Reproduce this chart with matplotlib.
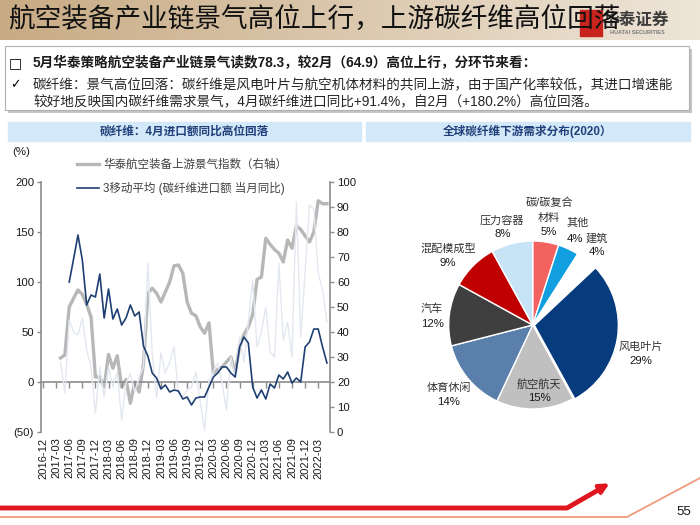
import numpy as np
import pandas as pd
import matplotlib
matplotlib.use("Agg")
import matplotlib.pyplot as plt
from matplotlib.patches import Rectangle

plt.rcParams["font.family"] = ["Liberation Sans", "Noto Sans CJK SC", "DejaVu Sans"]
plt.rcParams["axes.unicode_minus"] = False

W, H = 700, 525

# ---- texts
title = "航空装备产业链景气高位上行，上游碳纤维高位回落"
bullet1 = "5月华泰策略航空装备产业链景气读数78.3，较2月（64.9）高位上行，分环节来看："
bullet2 = ["碳纤维：景气高位回落：碳纤维是风电叶片与航空机体材料的共同上游，由于国产化率较低，其进口增速能",
           "较好地反映国内碳纤维需求景气，4月碳纤维进口同比+91.4%，自2月（+180.2%）高位回落。"]
left_title = "碳纤维：4月进口额同比高位回落"
right_title = "全球碳纤维下游需求分布(2020）"
leg_grey = "华泰航空装备上游景气指数（右轴）"
leg_blue = "3移动平均 (碳纤维进口额 当月同比)"

# ---- line chart data (monthly, 2016-12 .. 2022-05)
months = pd.period_range("2016-12", periods=66, freq="M").strftime("%Y-%m").tolist()
N = None
index_right = [N, N, N, N, 29.6, 30.8, 50, 53.5, 56.8, 55, 51, 46, 22, 22, 18, 31, 25.5, 30.5,
               18, 21, 11.5, 20, 16, 27, 55.5, 57.5, 55.5, 52, 56, 60, 66.5, 66.8, 63.5, 52,
               47.5, 46.5, 42, 39.5, 43.7, 23.5, 25, 26, 28, 30, 24, 34, 39, 42, 47, 61,
               62, 77.5, 75, 73, 71.5, 68, 76.8, 73.5, 82.5, 81, 78.5, 76, 80, 92.5, 91.3, 91.3]
ma3_yoy = [N, N, N, N, N, N, 100, 123, 147, 122, 77, 87, 85, 108, 64, 93, 63, 73, 57, 64,
           77, 66, 70, 36, 26, 9, 4, -7, -3, -10, -8, -9, -17, -15, -23, -16, -15, -15, -5, 5,
           9, 15, 15, 9, 5, 35, 45, 39, -5, -16, -8, -17, -2, -6, 7, 3, 10, -1, 4, 0,
           35, 40, 53, 53, 35, 19]
raw_yoy = [N, N, N, N, 20, -11, 62, 50, 47, 64, 32, 15, -31, 15, -15, 15, -5, 10, -38, -1,
           8, -10, 5, 15, 119, 29, -16, 29, 9, 20, 35, -11, -15, -8, -5, 10, -20, -48, 2, 10,
           19, -1, -28, 25, 5, 45, 20, 60, 102, 35, 50, 75, 30, 25, 119, 42, 60, 25, 180, 45,
           110, 177, 173, 109, 92, 60]

# ---- pie data
pie_names = ["碳/碳复合\n材料", "其他", "建筑", "风电叶片", "航空航天", "体育休闲", "汽车", "混配模成型", "压力容器"]
pie_share = [5, 4, 4, 29, 15, 14, 12, 9, 8]
pie_colors = ["#f2625f", "#119fe0", "#ffffff", "#063c7e", "#c0c0c0", "#5a7fab", "#3f3f3f", "#c00000", "#c7e4f7"]
# label anchor (pixel x, name y, pct y) per slice
pie_lab_pos = [(549, 210, 232), (578, 223, 239), (597, 238, 252), (641, 347, 361), (539, 384, 398),
               (449, 388, 402), (432, 309, 324), (448, 249, 263), (502, 221, 234)]
pie_pct_dx = [0, -3.5, 0, 0, 0, 0, 1, 0, 0.5]


def fx(x):
    return x / W


def fy(y):
    return 1 - y / H


fig = plt.figure(figsize=(W / 100, H / 100), dpi=100)

# background / decoration layer in pixel coordinates
bg = fig.add_axes([0, 0, 1, 1], zorder=0)
bg.set_xlim(0, W); bg.set_ylim(H, 0); bg.axis("off")

c0, c1 = np.array([200, 171, 132]) / 255, np.array([238, 229, 216]) / 255
t = np.linspace(0, 1, 256)[None, :, None]
bg.imshow(c0 + (c1 - c0) * t, extent=(0, W, 40, 0), aspect="auto", zorder=1)

# logo
bg.add_patch(Rectangle((580, 10), 22, 26, color="#c9231e", zorder=2))
bg.text(603, 20, "华泰证券", fontsize=12, fontweight="bold", color="#3c3c3c", va="center", ha="left", zorder=2)
bg.text(610, 33, "HUATAI SECURITIES", fontsize=4, fontweight="bold", color="#7a7a7a", va="center", ha="left", zorder=2)
bg.text(8, 21, title, fontsize=19.2, color="#111111", va="center", ha="left", zorder=5)

# bullet box
bg.add_patch(Rectangle((8, 49), 684, 64, facecolor="#c4c4c4", edgecolor="none", zorder=1))
bg.add_patch(Rectangle((5, 46), 684, 64, facecolor="white", edgecolor="#b0b0b0", lw=0.8, zorder=2))
bg.text(15, 63, "□", fontsize=10, fontweight="bold", family=["DejaVu Sans"], va="center", ha="center", zorder=3)
bg.text(33, 63, bullet1, fontsize=9.8, fontweight="bold", color="#1a1a1a", va="center", ha="left", zorder=3)
bg.text(15, 85, "✓", fontsize=9, family=["DejaVu Sans"], va="center", ha="center", zorder=3)
bg.text(33, 85, bullet2[0], fontsize=9.8, color="#262626", va="center", ha="left", zorder=3)
bg.text(33, 102, bullet2[1], fontsize=9.8, color="#262626", va="center", ha="left", zorder=3)

# panel title bars
bg.add_patch(Rectangle((8, 122), 353, 19, color="#d3e8f8", zorder=1))
bg.add_patch(Rectangle((366, 122), 324, 19, color="#d3e8f8", zorder=1))
bg.text(184, 131.5, left_title, fontsize=8.4, fontweight="bold", color="#1f3f7a", va="center", ha="center", zorder=2)
bg.text(528, 131.5, right_title, fontsize=8.4, fontweight="bold", color="#1f3f7a", va="center", ha="center", zorder=2)

# bottom decoration
bg.plot([0, 627, 700], [517, 517, 478], color="#f19a7c", lw=1.3, zorder=1)
bg.plot([0, 567, 600], [508, 508, 489], color="#e0161f", lw=3.5, solid_capstyle="butt", zorder=2)
bg.annotate("", xy=(612, 482), xytext=(596, 491),
            arrowprops=dict(arrowstyle="-|>", color="#e0161f", lw=3, mutation_scale=14), zorder=2)
bg.text(684, 512, "55", fontsize=9.5, color="#1a1a1a", va="center", ha="center")

# ---- line chart
x = np.arange(len(months))
ax = fig.add_axes([fx(41), fy(432), 289 / W, 250 / H], zorder=2)
ax2 = ax.twinx()
ax2.set_zorder(1)
ax.patch.set_visible(False)

g_line, = ax2.plot(x, np.array(index_right, dtype=float), color="#b7b7b7", lw=2.4, label=leg_grey)
ax.plot(x, np.array(raw_yoy, dtype=float), color="#e3e8f0", lw=1.0, zorder=1)
b_line, = ax.plot(x, np.array(ma3_yoy, dtype=float), color="#1f3f73", lw=1.2, zorder=3, label=leg_blue)

ax.set_xlim(-0.46, 65.7)
ax.set_ylim(-50, 200)
ax2.set_ylim(0, 100)
ax.set_yticks([-50, 0, 50, 100, 150, 200])
ax.set_yticklabels(["(50)", "0", "50", "100", "150", "200"])
ax2.set_yticks(range(0, 101, 10))
ax.set_xticks(x[::3])
ax.set_xticklabels(months[::3], rotation=90)
ax.tick_params(axis="x", length=0, pad=4, labelsize=8, labelcolor="#1a1a1a")
ax.tick_params(axis="y", length=3, width=1, color="#8c8c8c", pad=2, labelsize=8.2, labelcolor="#1a1a1a")
ax2.tick_params(axis="y", length=3, width=1, color="#8c8c8c", pad=2, labelsize=8.2, labelcolor="#1a1a1a")
for s in ["top", "bottom", "right"]:
    ax.spines[s].set_visible(False)
for s in ["top", "bottom", "left"]:
    ax2.spines[s].set_visible(False)
ax.spines["left"].set_color("#8c8c8c"); ax.spines["left"].set_linewidth(1.2)
ax2.spines["right"].set_color("#8c8c8c"); ax2.spines["right"].set_linewidth(1.2)

zero = ax.secondary_xaxis(0.2)
zero.set_xticks(x[::3])
zero.tick_params(axis="x", length=4, width=1, color="#8c8c8c", labelbottom=False, labeltop=False)
zero.spines["bottom"].set_color("#8c8c8c")
zero.spines["bottom"].set_linewidth(1.2)

fig.text(fx(21), fy(152), "(%)", fontsize=8.2, color="#1a1a1a", ha="center", va="center")
leg = ax.legend(handles=[g_line, b_line], loc="upper left", bbox_to_anchor=(fx(77), fy(159)),
                bbox_transform=fig.transFigure, frameon=False, fontsize=8.3, handlelength=1.9,
                handletextpad=0.35, labelspacing=0.95, borderpad=0, borderaxespad=0)
for txt in leg.get_texts():
    txt.set_color("#404040")

# ---- pie chart
R = 84
cx, cy = 532.7, 325
pax = fig.add_axes([fx(cx - R), fy(cy + R), 2 * R / W, 2 * R / H], zorder=1)
explode = [0.02 if n == "风电叶片" else 0 for n in pie_names]
pax.pie(pie_share, colors=pie_colors, startangle=90, counterclock=False, explode=explode,
        wedgeprops=dict(edgecolor="white", linewidth=1.0))
pax.set_xlim(-1, 1); pax.set_ylim(-1, 1)
pax.set_aspect("equal")
pax.axis("off")
for c in pax.patches:
    c.set_clip_on(False)

for name, share, (lx, ny, py), dx in zip(pie_names, pie_share, pie_lab_pos, pie_pct_dx):
    lines = name.split("\n")
    for k, ln in enumerate(lines):
        yy = ny - 7.5 * (len(lines) - 1 - k) * 2 + (0 if len(lines) == 1 else 7.5)
        fig.text(fx(lx), fy(yy), ln, fontsize=8, color="#333333", ha="center", va="center")
    fig.text(fx(lx + dx), fy(py), f"{share}%", fontsize=8.2, color="#1a1a1a", ha="center", va="center")

fig.savefig("out.png", dpi=100)
